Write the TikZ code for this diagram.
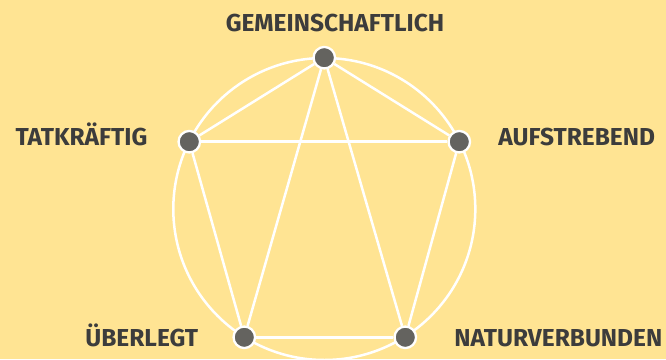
\documentclass[tikz,border=0pt]{standalone}
\usepackage{fontspec}
\setmainfont{Fira Sans}
\usepackage{xcolor}
\usetikzlibrary{backgrounds}

\definecolor{bgyellow}{HTML}{FFE493}
\definecolor{dotgray}{HTML}{64635F}
\definecolor{labelgray}{HTML}{3C3C3C}

\begin{document}
\begin{tikzpicture}[
    x=1pt, y=-1pt,
    dot/.style={circle, draw=white, fill=dotgray, line width=2.3pt, minimum size=21.5pt, inner sep=0pt},
    trait/.style={anchor=base, text=labelgray, font=\fontsize{24.5}{28}\selectfont\bfseries, inner sep=0pt},
    link/.style={draw=white, line width=2.5pt}
]
\useasboundingbox (0,0) rectangle (666,359);

% Dots on the circle
\coordinate (center) at (324.3,209);
\node[dot] (top) at (324.3,57.7) {};
\node[dot] (left) at (189.3,141.7) {};
\node[dot] (right) at (459.3,141.7) {};
\node[dot] (botleft) at (244.3,337.3) {};
\node[dot] (botright) at (405.3,337.3) {};

% Labels
\node[trait] (gem) at (335,31.7) {GEMEINSCHAFTLICH};
\node[trait] (tat) at (81.5,145.7) {TATKRÄFTIG};
\node[trait] (auf) at (576.7,145.7) {AUFSTREBEND};
\node[trait] (ueb) at (141.7,346.7) {ÜBERLEGT};
\node[trait] (nat) at (558.3,346.7) {NATURVERBUNDEN};

% Background, circle and connections behind the dots
\begin{pgfonlayer}{background}
\fill[bgyellow] (0,0) rectangle (666,359);
\draw[link] (center) circle[radius=151];
\draw[link] (top) -- (left);
\draw[link] (top) -- (right);
\draw[link] (left) -- (right);
\draw[link] (left) -- (botleft);
\draw[link] (right) -- (botright);
\draw[link] (botleft) -- (botright);
\draw[link] (top) -- (botleft);
\draw[link] (top) -- (botright);
\end{pgfonlayer}

\end{tikzpicture}
\end{document}
